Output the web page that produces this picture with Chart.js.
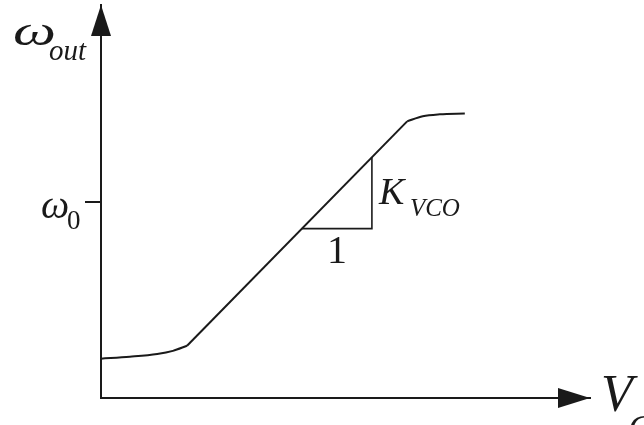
<!DOCTYPE html>
<html>
<head>
<meta charset="utf-8">
<style>
  html, body { margin: 0; padding: 0; background: #ffffff; }
  #wrap { width: 644px; height: 425px; }
</style>
<script src="https://cdn.jsdelivr.net/npm/chart.js@4/dist/chart.umd.min.js"></script>
</head>
<body>
<div id="wrap"><canvas id="vco"></canvas></div>
<script>
// VCO transfer characteristic: output frequency vs. control voltage.
// Abstract units: 0..100 on both axes.
const lowBendX  = [0, 5.9, 11.5, 14.7, 17.6];
const lowBendY  = [10.0, 10.5, 11.2, 12.0, 13.3];
const linearX   = [17.6, 62.6];
const linearY   = [13.3, 70.4];
const highBendX = [62.6, 65.8, 69.3, 74.4];
const highBendY = [70.4, 71.7, 72.2, 72.4];
// slope triangle under the linear region (run = 1, rise = K_VCO)
const slopeX    = [41.1, 55.4, 55.4];
const slopeY    = [43.1, 43.1, 61.3];
// marked frequency on the vertical axis
const centerFreq = 50;

const pts = (xs, ys) => xs.map((x, i) => ({ x, y: ys[i] }));
const INK = '#1a1a1a';
const SERIF = '"Liberation Serif", "Times New Roman", serif';

const labelPlugin = {
  id: 'vcoLabels',
  afterDraw(chart) {
    const { ctx, scales: { x, y } } = chart;
    const x0 = x.left, yb = y.bottom;
    const xr = x.right, yt = y.top;
    ctx.save();
    ctx.fillStyle = INK;
    // arrowheads
    ctx.beginPath();
    ctx.moveTo(x0, yt);
    ctx.lineTo(x0 - 10, yt + 31);
    ctx.lineTo(x0 + 10, yt + 31);
    ctx.closePath();
    ctx.fill();
    ctx.beginPath();
    ctx.moveTo(xr, yb);
    ctx.lineTo(xr - 32, yb - 10);
    ctx.lineTo(xr - 32, yb + 10);
    ctx.closePath();
    ctx.fill();

    ctx.textBaseline = 'alphabetic';
    ctx.textAlign = 'left';
    // ω_out
    ctx.save();
    ctx.translate(x0 - 88, yt + 40);
    ctx.scale(1.45, 1);
    ctx.font = 'italic 42px ' + SERIF;
    ctx.fillText('ω', 0, 0);
    ctx.restore();
    ctx.font = 'italic 29px ' + SERIF;
    ctx.fillText('out', x0 - 52, yt + 55);

    // ω_0 at the marked tick
    const y0 = y.getPixelForValue(centerFreq);
    ctx.font = 'italic 40px ' + SERIF;
    ctx.fillText('ω', x0 - 60, y0 + 16);
    ctx.font = '27px ' + SERIF;
    ctx.fillText('0', x0 - 34, y0 + 27);

    // V_C
    ctx.font = 'italic 52px ' + SERIF;
    ctx.fillText('V', xr + 11, yb + 13);
    ctx.font = 'italic 36px ' + SERIF;
    ctx.fillText('C', xr + 38, yb + 42);

    // slope triangle labels
    const run = x.getPixelForValue(slopeX[0]);
    const corner = x.getPixelForValue(slopeX[1]);
    const base = y.getPixelForValue(slopeY[0]);
    ctx.textAlign = 'center';
    ctx.font = '40px ' + SERIF;
    ctx.fillText('1', (run + corner) / 2, base + 34);
    ctx.textAlign = 'left';
    ctx.font = 'italic 38px ' + SERIF;
    ctx.fillText('K', corner + 7, base - 25);
    ctx.font = 'italic 25px ' + SERIF;
    ctx.fillText('VCO', corner + 38, base - 13);
    ctx.restore();
  }
};

const lineSet = (data, extra) => Object.assign({
  data,
  showLine: true,
  borderColor: INK,
  borderWidth: 2,
  pointRadius: 0,
  fill: false
}, extra);

new Chart(document.getElementById('vco'), {
  type: 'scatter',
  data: {
    datasets: [
      lineSet(pts(lowBendX, lowBendY), { cubicInterpolationMode: 'monotone' }),
      lineSet(pts(linearX, linearY), { tension: 0 }),
      lineSet(pts(highBendX, highBendY), { cubicInterpolationMode: 'monotone' }),
      lineSet(pts(slopeX, slopeY), { tension: 0, borderWidth: 1.6 })
    ]
  },
  options: {
    responsive: true,
    maintainAspectRatio: false,
    animation: false,
    events: [],
    layout: { padding: { left: 85, right: 54, top: 5, bottom: 19 } },
    plugins: {
      legend: { display: false },
      tooltip: { enabled: false },
      title: { display: false }
    },
    scales: {
      x: {
        type: 'linear',
        min: 0,
        max: 100,
        ticks: { display: false },
        grid: { display: false },
        border: { display: true, color: INK, width: 2 }
      },
      y: {
        type: 'linear',
        min: 0,
        max: 100,
        afterBuildTicks: (scale) => { scale.ticks = [{ value: centerFreq }]; },
        ticks: { display: false },
        grid: {
          display: true,
          drawOnChartArea: false,
          drawTicks: true,
          tickLength: 16,
          color: INK,
          lineWidth: 2
        },
        border: { display: true, color: INK, width: 2 }
      }
    }
  },
  plugins: [labelPlugin]
});
</script>
</body>
</html>
